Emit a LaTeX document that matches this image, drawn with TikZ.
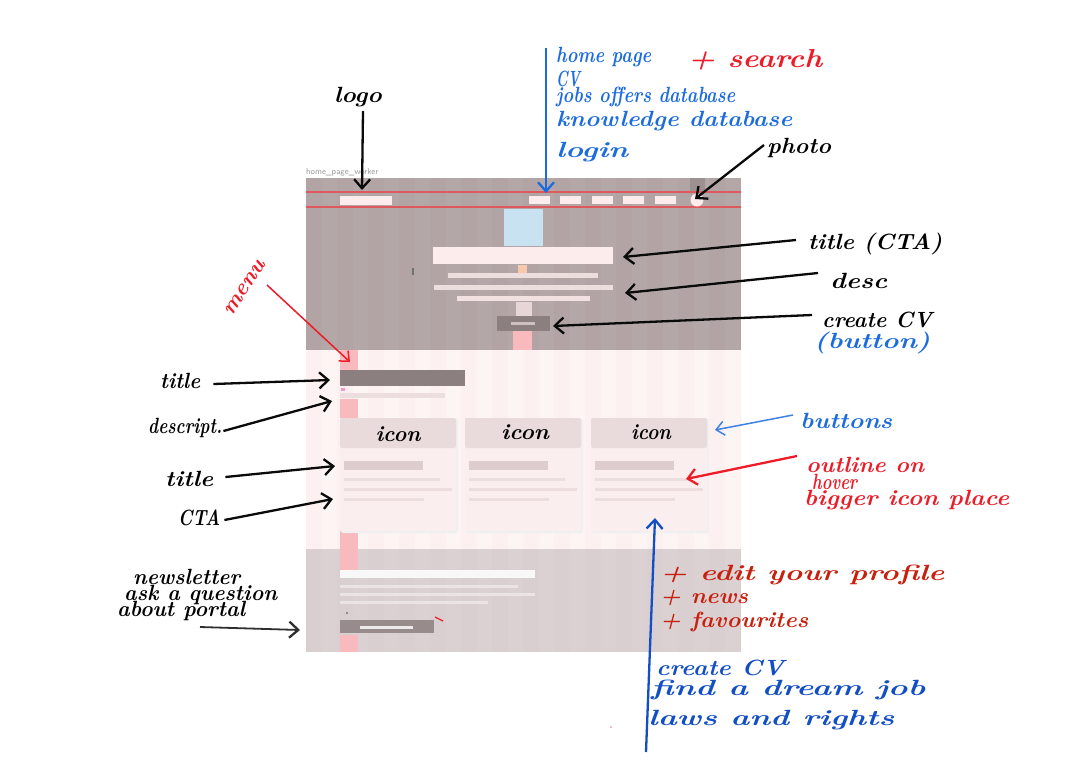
\documentclass[tikz,border=0pt]{standalone}
\usetikzlibrary{arrows.meta}
\definecolor{herogrey}{RGB}{178,164,165}
\definecolor{heroline}{RGB}{222,88,92}
\definecolor{secpink}{RGB}{253,240,240}
\definecolor{secgrey}{RGB}{217,206,208}
\definecolor{darkbar}{RGB}{140,127,127}
\definecolor{lightbar}{RGB}{252,236,236}
\definecolor{markpink}{RGB}{248,186,188}
\definecolor{markorange}{RGB}{248,200,170}
\definecolor{cardhead}{RGB}{233,218,219}
\definecolor{cardbody}{RGB}{251,238,238}
\definecolor{cardline}{RGB}{236,222,223}
\definecolor{cardtitle}{RGB}{222,205,206}
\definecolor{imgblue}{RGB}{200,226,242}
\definecolor{inkblack}{RGB}{10,10,10}
\definecolor{inkblue}{RGB}{28,108,222}
\definecolor{inkblueD}{RGB}{18,78,196}
\definecolor{inkred}{RGB}{236,28,40}
\definecolor{inkredD}{RGB}{200,32,14}
\newcommand{\handf}{\fontsize{22}{24}\selectfont\bfseries\itshape}
\newsavebox{\hwbox}
\newcommand{\hw}[2]{\sbox{\hwbox}{#2}\pgfmathsetmacro{\hwratio}{#1/(\wd\hwbox)}\scalebox{\hwratio}[1]{\usebox{\hwbox}}}
\begin{document}
\begin{tikzpicture}[x=1pt,y=-1pt,
  hb/.style={font=\handf,inner sep=0pt,anchor=west},
  harrow/.style={line width=2.3pt,-{Straight Barb[length=9pt,width=16pt,line width=2.3pt]}},
  tharrow/.style={line width=1.5pt,-{Straight Barb[length=8pt,width=14pt,line width=1.5pt]}}]
\path[use as bounding box,fill=white] (0,0) rectangle (1076,772);
% ---------- wireframe ----------
\node[anchor=south west,inner sep=0pt,font=\sffamily\fontsize{8.5}{9}\selectfont,text=black!40] (frameLabel) at (306,176) {home\_page\_worker};
% hero
\fill[herogrey] (306,178) rectangle (741,350);
\foreach \c in {0,...,13} {\fill[white,opacity=0.035] (306+31*\c+16,178) rectangle (306+31*\c+31,350);}
\fill[black!12!herogrey] (690,178) rectangle (705,192);
\draw[heroline,line width=1.2pt] (306,192) -- (741,192);
\draw[heroline,line width=1.2pt] (306,207) -- (741,207);
\fill[lightbar] (340,196) rectangle (392,205);
\foreach \xx in {529,560,592,623,655} {\fill[lightbar] (\xx,196) rectangle (\xx+21,204);}
\fill[lightbar] (697,200) circle (6.5);
\fill[imgblue] (504,209) rectangle (543,246);
\fill[lightbar] (433,247) rectangle (613,264);
\fill[markorange] (518,265) rectangle (527,274);
\fill[lightbar!80!herogrey] (448,273) rectangle (598,278);
\fill[lightbar!80!herogrey] (434,285) rectangle (613,290);
\fill[lightbar!85!herogrey] (457,296) rectangle (590,301);
\fill[lightbar!70!herogrey] (516,302) rectangle (532,316);
\fill[darkbar] (497,316) rectangle (550,331);
\fill[lightbar!60!darkbar] (511,322) rectangle (535,325);
\fill[markpink] (513,331) rectangle (532,350);
\fill[black!55] (412,268) rectangle (414,275);
% section 2
\fill[secpink] (306,350) rectangle (741,549);
\foreach \c in {0,...,13} {\fill[white,opacity=0.3] (306+31*\c+16,350) rectangle (306+31*\c+31,549);}
\fill[markpink] (340,350) rectangle (358,370);
\fill[markpink] (340,399) rectangle (358,418);
\fill[markpink] (340,531) rectangle (358,549);
\fill[darkbar] (340,370) rectangle (465,386);
\fill[markpink!80!magenta] (341,388) rectangle (345,391);
\fill[cardline] (340,393) rectangle (445,398);
\foreach \cx in {340,465,591} {
  \fill[black!6,rounded corners=2pt] (\cx+1,419) rectangle (\cx+118,533);
  \fill[cardbody,rounded corners=2pt] (\cx,418) rectangle (\cx+116,531);
  \fill[cardhead,rounded corners=2pt] (\cx,418) rectangle (\cx+116,448);
  \fill[cardtitle] (\cx+4,461) rectangle (\cx+83,470);
  \fill[cardline] (\cx+4,478) rectangle (\cx+100,481);
  \fill[cardline] (\cx+4,488) rectangle (\cx+112,491);
  \fill[cardline] (\cx+4,498) rectangle (\cx+84,501);
}
\node[font=\handf,inner sep=0pt] (iconA) at (398,434) {\hw{45pt}{icon}};
\node[font=\handf,inner sep=0pt] (iconB) at (525,432) {\hw{48pt}{icon}};
\node[font=\handf,inner sep=0pt] (iconC) at (651,432) {\hw{40pt}{icon}};
% section 3
\fill[secgrey] (306,549) rectangle (741,652);
\foreach \c in {0,...,13} {\fill[white,opacity=0.08] (306+31*\c+16,549) rectangle (306+31*\c+31,652);}
\fill[markpink] (340,549) rectangle (358,570);
\fill[markpink] (340,635) rectangle (358,652);
\fill[white!85!secgrey] (340,570) rectangle (535,578);
\fill[white!45!secgrey] (340,585) rectangle (518,588);
\fill[white!45!secgrey] (340,593) rectangle (535,596);
\fill[white!45!secgrey] (340,601) rectangle (488,604);
\fill[black!45] (346,612) rectangle (348,614);
\fill[darkbar!85!secgrey] (340,620) rectangle (434,633);
\fill[white!55!secgrey] (360,626) rectangle (413,629);
\draw[inkred,line width=1.2pt] (435,617) -- (443,621);
% ---------- annotations ----------
% logo
\node[hb,anchor=center] (logoTxt) at (358,97) {\hw{48pt}{logo}};
\coordinate (logoT) at (362,190);
\draw[harrow,inkblack] ([xshift=5pt,yshift=-4pt]logoTxt.south) -- (logoT);
% nav
\coordinate (navS) at (546,48);
\coordinate (navT) at (546,193);
\draw[harrow,inkblue] (navS) -- (navT);
\begin{scope}[every node/.style={hb,text=inkblue}]
\node (nav1) at (556,57) {\hw{95pt}{home page}};
\node (nav2) at (556,79) {\hw{24pt}{CV}};
\node (nav3) at (556,97) {\hw{179pt}{jobs offers database}};
\node (nav4) at (556,121) {\hw{236pt}{knowledge database}};
\node (nav5) at (556,152) {\hw{72pt}{login}};
\end{scope}
\node[hb,text=inkred,font=\fontsize{26}{28}\selectfont\bfseries\itshape] (search) at (688,60) {\hw{134pt}{+ search}};
% photo
\node[hb] (photoTxt) at (767,148) {\hw{64pt}{photo}};
\coordinate (photoT) at (695,199);
\draw[harrow,inkblack] ([xshift=-3pt,yshift=3pt]photoTxt.west) -- (photoT);
% hero right
\node[hb] (titleCTA) at (808,244) {\hw{134pt}{title (CTA)}};
\coordinate (titleCTAT) at (623,257);
\draw[harrow,inkblack] ([xshift=-12pt,yshift=4pt]titleCTA.west) -- (titleCTAT);
\node[hb] (descTxt) at (830,281) {\hw{57pt}{desc}};
\coordinate (descT) at (625,293);
\draw[harrow,inkblack] ([xshift=-12pt,yshift=8pt]descTxt.west) -- (descT);
\node[hb] (createTxt) at (822,320) {\hw{110pt}{create CV}};
\node[hb,text=inkblue] (buttonTxt) at (814,343) {\hw{116pt}{(button)}};
\coordinate (createT) at (553,326);
\draw[harrow,inkblack] ([xshift=-10pt,yshift=5pt]createTxt.west) -- (createT);
% menu
\node[font=\handf,text=inkred,inner sep=0pt,rotate=57] (menuTxt) at (245,288) {\hw{62pt}{menu}};
\coordinate (menuS) at (267,285);
\coordinate (menuT) at (350,362);
\draw[tharrow,inkred] (menuS) -- (menuT);
% left labels
\node[hb] (lTitle) at (160,381) {\hw{40pt}{title}};
\coordinate (lTitleT) at (330,380);
\draw[harrow,inkblack] ([xshift=13pt,yshift=-3pt]lTitle.east) -- (lTitleT);
\node[hb] (lDesc) at (148,428) {\hw{74pt}{descript.}};
\coordinate (lDescT) at (332,401);
\draw[harrow,inkblack] ([xshift=1pt,yshift=-3pt]lDesc.east) -- (lDescT);
\node[hb] (lTitle2) at (165,479) {\hw{48pt}{title}};
\coordinate (lTitle2T) at (335,466);
\draw[harrow,inkblack] ([xshift=12pt,yshift=2pt]lTitle2.east) -- (lTitle2T);
\node[hb] (lCTA) at (178,518) {\hw{42pt}{CTA}};
\coordinate (lCTAT) at (333,499);
\draw[harrow,inkblack] ([xshift=4pt,yshift=-2pt]lCTA.east) -- (lCTAT);
\node[hb] (nl1) at (133,577) {\hw{107pt}{newsletter}};
\node[hb] (nl2) at (124,595) {\hw{153pt}{ask a question}};
\node[hb] (nl3) at (117,611) {\hw{128pt}{about portal}};
\coordinate (nlS) at (200,627);
\coordinate (nlT) at (300,630);
\draw[harrow,inkblack!85,line width=1.8pt] (nlS) -- (nlT);
% right of cards
\node[hb,text=inkblue] (btnTxt) at (800,421) {\hw{92pt}{buttons}};
\coordinate (btnT) at (715,430);
\draw[tharrow,inkblue!85] ([xshift=-7pt,yshift=6pt]btnTxt.west) -- (btnT);
\node[hb,text=inkred] (ol1) at (806,465) {\hw{118pt}{outline on}};
\node[hb,text=inkred] (ol2) at (812,482) {\hw{45pt}{hover}};
\node[hb,text=inkred] (ol3) at (804,500) {\hw{205pt}{bigger icon place}};
\coordinate (olT) at (686,479);
\draw[harrow,inkred] ([xshift=-9pt,yshift=9pt]ol1.west) -- (olT);
% bottom
\coordinate (upS) at (646,752);
\coordinate (upT) at (655,518);
\draw[harrow,inkblueD] (upS) -- (upT);
\begin{scope}[every node/.style={hb,text=inkredD}]
\node (r1) at (660,575) {\hw{284pt}{+ edit your profile}};
\node (r2) at (660,598) {\hw{88pt}{+ news}};
\node (r3) at (660,622) {\hw{148pt}{+ favourites}};
\end{scope}
\begin{scope}[every node/.style={hb,text=inkblueD}]
\node (b1) at (656,668) {\hw{128pt}{create CV}};
\node (b2) at (651,690) {\hw{274pt}{find a dream job}};
\node (b3) at (648,720) {\hw{246pt}{laws and rights}};
\end{scope}
\fill[inkred!50] (611,727) circle (1);
\end{tikzpicture}
\end{document}
